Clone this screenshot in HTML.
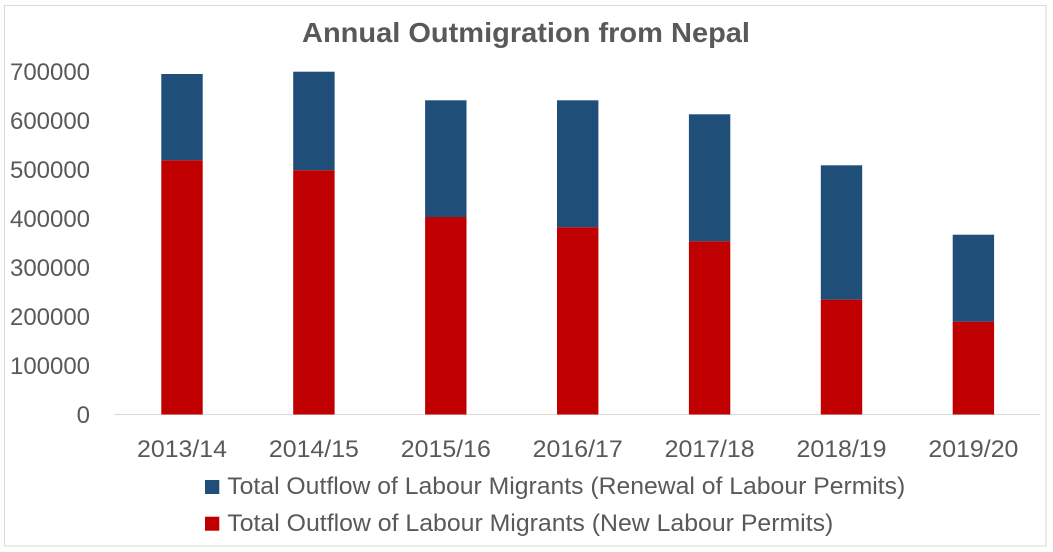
<!DOCTYPE html>
<html>
<head>
<meta charset="utf-8">
<style>
  html, body { margin:0; padding:0; background:#fff; }
  svg { display:block; }
  text { font-family: "Liberation Sans", sans-serif; fill:#595959; }
</style>
</head>
<body>
<svg width="1053" height="552" viewBox="0 0 1053 552" xmlns="http://www.w3.org/2000/svg">
  <rect x="0" y="0" width="1053" height="552" fill="#fff"/>
  <rect x="4.5" y="5.5" width="1041.5" height="540.5" fill="#fff" stroke="#d9d9d9" stroke-width="1"/>

  <!-- Title -->
  <text x="526" y="42" font-size="28" font-weight="bold" text-anchor="middle" textLength="448" lengthAdjust="spacingAndGlyphs">Annual Outmigration from Nepal</text>

  <!-- Y axis labels -->
  <g font-size="24" text-anchor="end">
    <text x="90" y="80" textLength="80" lengthAdjust="spacingAndGlyphs">700000</text>
    <text x="90" y="129" textLength="80" lengthAdjust="spacingAndGlyphs">600000</text>
    <text x="90" y="178" textLength="80" lengthAdjust="spacingAndGlyphs">500000</text>
    <text x="90" y="227" textLength="80" lengthAdjust="spacingAndGlyphs">400000</text>
    <text x="90" y="276" textLength="80" lengthAdjust="spacingAndGlyphs">300000</text>
    <text x="90" y="325" textLength="80" lengthAdjust="spacingAndGlyphs">200000</text>
    <text x="90" y="374" textLength="80" lengthAdjust="spacingAndGlyphs">100000</text>
    <text x="90" y="423">0</text>
  </g>

  <!-- Baseline -->
  <line x1="114" y1="414.5" x2="1040" y2="414.5" stroke="#d9d9d9" stroke-width="1"/>

  <!-- Bars -->
  <g>
    <rect x="161.3" y="74" width="41.4" height="86.3" fill="#1f4e79"/>
    <rect x="161.3" y="160.3" width="41.4" height="254.2" fill="#c00000"/>

    <rect x="293.2" y="71.7" width="41.4" height="98.6" fill="#1f4e79"/>
    <rect x="293.2" y="170.3" width="41.4" height="244.2" fill="#c00000"/>

    <rect x="425.1" y="100.3" width="41.4" height="116.7" fill="#1f4e79"/>
    <rect x="425.1" y="217" width="41.4" height="197.5" fill="#c00000"/>

    <rect x="557" y="100.3" width="41.4" height="127" fill="#1f4e79"/>
    <rect x="557" y="227.3" width="41.4" height="187.2" fill="#c00000"/>

    <rect x="688.9" y="114.3" width="41.4" height="127" fill="#1f4e79"/>
    <rect x="688.9" y="241.3" width="41.4" height="173.2" fill="#c00000"/>

    <rect x="820.8" y="165.3" width="41.4" height="134.4" fill="#1f4e79"/>
    <rect x="820.8" y="299.7" width="41.4" height="114.8" fill="#c00000"/>

    <rect x="952.7" y="234.7" width="41.4" height="87" fill="#1f4e79"/>
    <rect x="952.7" y="321.7" width="41.4" height="92.8" fill="#c00000"/>
  </g>

  <!-- X axis labels -->
  <g font-size="24" text-anchor="middle">
    <text x="182" y="457" textLength="90" lengthAdjust="spacingAndGlyphs">2013/14</text>
    <text x="313.9" y="457" textLength="90" lengthAdjust="spacingAndGlyphs">2014/15</text>
    <text x="445.8" y="457" textLength="90" lengthAdjust="spacingAndGlyphs">2015/16</text>
    <text x="577.7" y="457" textLength="90" lengthAdjust="spacingAndGlyphs">2016/17</text>
    <text x="709.6" y="457" textLength="90" lengthAdjust="spacingAndGlyphs">2017/18</text>
    <text x="841.5" y="457" textLength="90" lengthAdjust="spacingAndGlyphs">2018/19</text>
    <text x="973.4" y="457" textLength="90" lengthAdjust="spacingAndGlyphs">2019/20</text>
  </g>

  <!-- Legend -->
  <rect x="205" y="480" width="14.3" height="14" fill="#1f4e79"/>
  <text x="227.3" y="494" font-size="24" textLength="678" lengthAdjust="spacingAndGlyphs">Total Outflow of Labour Migrants (Renewal of Labour Permits)</text>
  <rect x="205" y="516.7" width="14.3" height="14" fill="#c00000"/>
  <text x="227.3" y="531" font-size="24" textLength="606" lengthAdjust="spacingAndGlyphs">Total Outflow of Labour Migrants (New Labour Permits)</text>
</svg>
</body>
</html>
